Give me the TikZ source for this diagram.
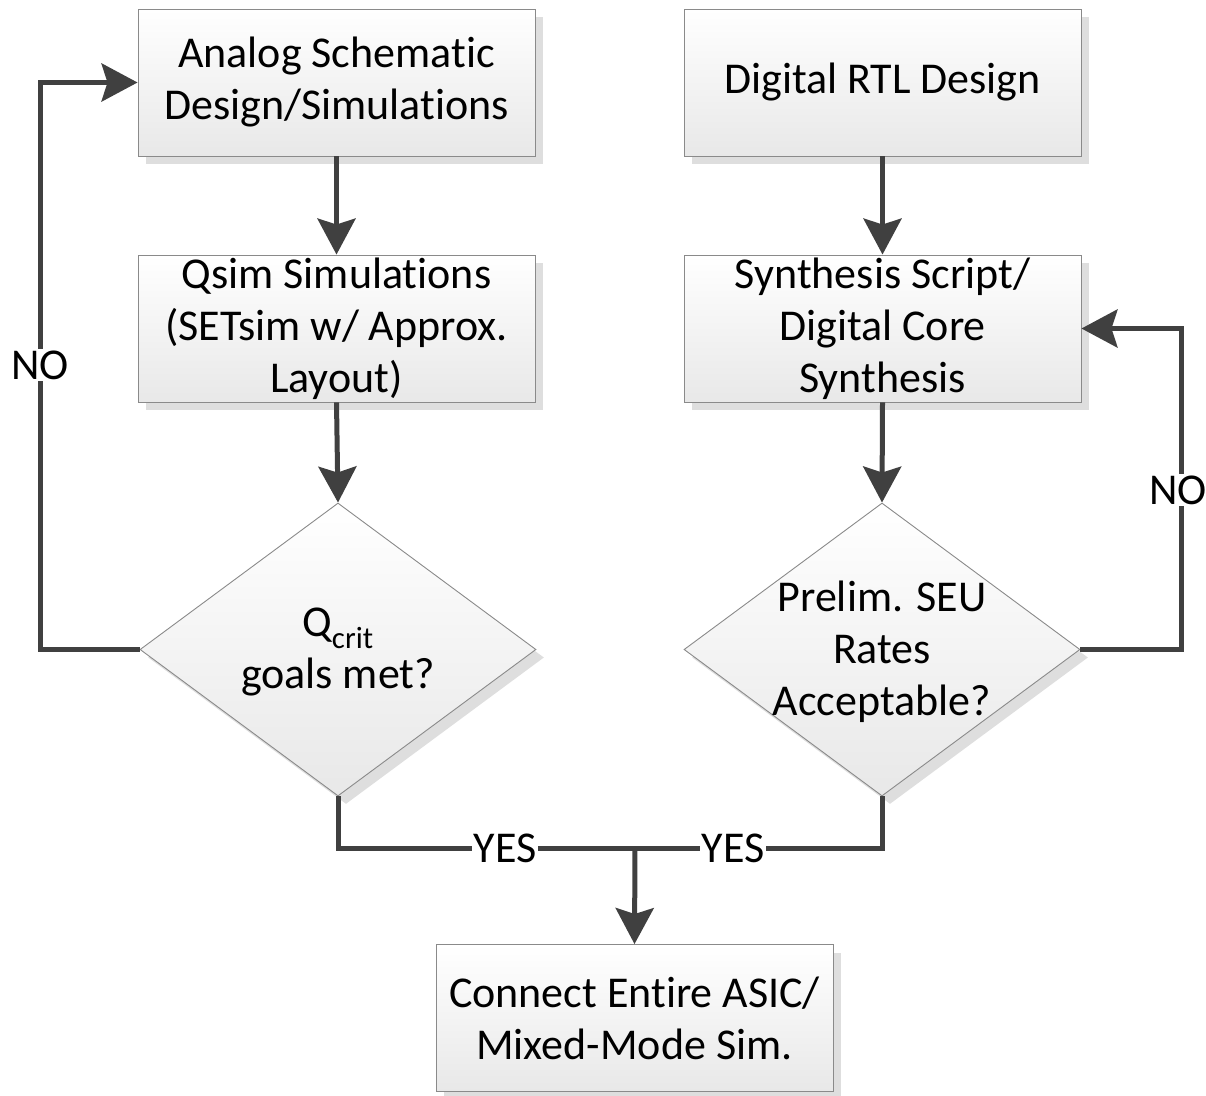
\documentclass[tikz,border=0pt]{standalone}
\usepackage{fontspec}
\setmainfont{Carlito}[Ligatures={NoCommon}]
\usetikzlibrary{shapes.geometric,arrows.meta,shadows,calc}
\definecolor{linegray}{HTML}{404040}
\definecolor{bordergray}{HTML}{8A8A8A}
\definecolor{shadowgray}{HTML}{DEDEDE}
\tikzset{
  flowbox/.style={rectangle, draw=bordergray, line width=0.9pt, top color=white, bottom color=black!9,
    minimum width=397pt, minimum height=147pt, inner sep=0pt, align=center,
    font=\fontsize{44}{52}\selectfont,
    drop shadow={shadow xshift=8pt, shadow yshift=-8pt, fill=shadowgray, opacity=1}},
  decision/.style={diamond, draw=bordergray, line width=0.9pt, top color=white, bottom color=black!9,
    minimum width=396pt, minimum height=293pt, inner sep=0pt,
    drop shadow={shadow xshift=8pt, shadow yshift=-8pt, fill=shadowgray, opacity=1}},
  dtext/.style={align=center, font=\fontsize{44}{52}\selectfont, inner sep=0pt},
  conn/.style={draw=linegray, line width=5pt},
  arr/.style={conn, -{Stealth[length=36pt, width=38pt, inset=6pt]}},
  lbl/.style={fill=white, inner sep=2pt, font=\fontsize{44}{52}\selectfont}
}
\begin{document}
\begin{tikzpicture}[x=1pt,y=-1pt]
\useasboundingbox (0,0) rectangle (1206,1095);
% boxes
\node[flowbox] (A) at (336.5,82.5) {Analog Schematic\\Design/Simulations};
\node[flowbox] (Q) at (336.5,328.5) {Qsim Simulations\\(SETsim w/ Approx.\\Layout)};
\node[flowbox] (D) at (882.5,82.5) {Digital RTL Design};
\node[flowbox] (S) at (882.5,328.5) {Synthesis Script/\\Digital Core\\Synthesis};
\node[decision] (dq) at (338,649.5) {};
\node[dtext] (dqt) at ($(dq.center)+(0,2)$) {Q\textsubscript{crit}\\goals met?};
\node[decision] (ds) at (882,649.5) {};
\node[dtext] (dst) at ($(ds.center)+(0,2)$) {Prelim. SEU\\Rates\\Acceptable?};
\node[flowbox] (C) at (634.5,1018) {Connect Entire ASIC/\\Mixed-Mode Sim.};
% coordinates
\coordinate (nl) at (40,82.5);
\coordinate (nr) at (1181,328.5);
\coordinate (jn) at (635,848);
% connectors
\draw[arr] (A.south) -- (Q.north);
\draw[arr] (Q.south) -- (dq.north);
\draw[arr] (D.south) -- (S.north);
\draw[arr] (S.south) -- (ds.north);
\draw[arr] (dq.west) -| (nl) -- (A.west);
\draw[arr] (ds.east) -| (nr) -- (S.east);
\draw[conn] (dq.south) |- (jn);
\draw[conn] (ds.south) |- (jn);
\draw[arr] (jn) -- (C.north);
% labels
\node[lbl] (noL) at (40,365) {NO};
\node[lbl] (noR) at (1178,490) {NO};
\node[lbl] (yesL) at (505,848) {YES};
\node[lbl] (yesR) at (733,848) {YES};
\end{tikzpicture}
\end{document}
